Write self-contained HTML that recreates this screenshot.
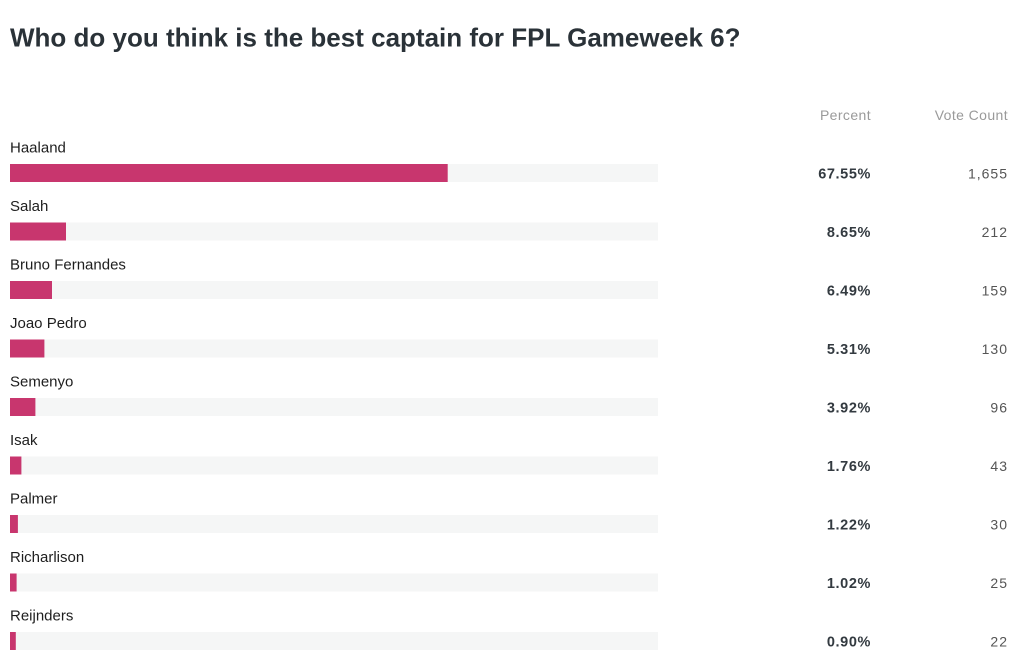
<!DOCTYPE html>
<html>
<head>
<meta charset="utf-8">
<style>
  html, body { margin: 0; padding: 0; background: #ffffff; }
  body { width: 1024px; height: 660px; overflow: hidden; }
  svg { display: block; }
  .title { font-family: "Liberation Sans", sans-serif; font-weight: bold; font-size: 26px; fill: #2a3238; }
  .lbl { font-family: "Liberation Sans", sans-serif; font-size: 15px; fill: #1e1e1e; }
  .hdr { font-family: "Liberation Sans", sans-serif; font-size: 14px; fill: #9a9a9a; letter-spacing: 0.4px; }
  .pct { font-family: "Liberation Sans", sans-serif; font-size: 14.5px; font-weight: bold; fill: #333a40; letter-spacing: 0.6px; }
  .cnt { font-family: "Liberation Sans", sans-serif; font-size: 14px; fill: #555555; letter-spacing: 1px; }
</style>
</head>
<body>
<svg width="1024" height="660" viewBox="0 0 1024 660" xmlns="http://www.w3.org/2000/svg">
  <text class="title" x="10" y="46.5">Who do you think is the best captain for FPL Gameweek 6?</text>

  <text class="hdr" x="871" y="120" text-anchor="end">Percent</text>
  <text class="hdr" x="1008" y="120" text-anchor="end">Vote Count</text>

  <!-- Row 0 -->
  <text class="lbl" x="10" y="152.7">Haaland</text>
  <rect x="10" y="164" width="648" height="18" fill="#f5f6f6"/>
  <rect x="10" y="164" width="437.7" height="18" fill="#c8366e"/>
  <text class="pct" x="871" y="178.5" text-anchor="end">67.55%</text>
  <text class="cnt" x="1008" y="178.5" text-anchor="end">1,655</text>

  <!-- Row 1 -->
  <text class="lbl" x="10" y="211.2">Salah</text>
  <rect x="10" y="222.5" width="648" height="18" fill="#f5f6f6"/>
  <rect x="10" y="222.5" width="56" height="18" fill="#c8366e"/>
  <text class="pct" x="871" y="237" text-anchor="end">8.65%</text>
  <text class="cnt" x="1008" y="237" text-anchor="end">212</text>

  <!-- Row 2 -->
  <text class="lbl" x="10" y="269.7">Bruno Fernandes</text>
  <rect x="10" y="281" width="648" height="18" fill="#f5f6f6"/>
  <rect x="10" y="281" width="42" height="18" fill="#c8366e"/>
  <text class="pct" x="871" y="295.5" text-anchor="end">6.49%</text>
  <text class="cnt" x="1008" y="295.5" text-anchor="end">159</text>

  <!-- Row 3 -->
  <text class="lbl" x="10" y="328.2">Joao Pedro</text>
  <rect x="10" y="339.5" width="648" height="18" fill="#f5f6f6"/>
  <rect x="10" y="339.5" width="34.4" height="18" fill="#c8366e"/>
  <text class="pct" x="871" y="354" text-anchor="end">5.31%</text>
  <text class="cnt" x="1008" y="354" text-anchor="end">130</text>

  <!-- Row 4 -->
  <text class="lbl" x="10" y="386.7">Semenyo</text>
  <rect x="10" y="398" width="648" height="18" fill="#f5f6f6"/>
  <rect x="10" y="398" width="25.4" height="18" fill="#c8366e"/>
  <text class="pct" x="871" y="412.5" text-anchor="end">3.92%</text>
  <text class="cnt" x="1008" y="412.5" text-anchor="end">96</text>

  <!-- Row 5 -->
  <text class="lbl" x="10" y="445.2">Isak</text>
  <rect x="10" y="456.5" width="648" height="18" fill="#f5f6f6"/>
  <rect x="10" y="456.5" width="11.4" height="18" fill="#c8366e"/>
  <text class="pct" x="871" y="471" text-anchor="end">1.76%</text>
  <text class="cnt" x="1008" y="471" text-anchor="end">43</text>

  <!-- Row 6 -->
  <text class="lbl" x="10" y="503.7">Palmer</text>
  <rect x="10" y="515" width="648" height="18" fill="#f5f6f6"/>
  <rect x="10" y="515" width="7.9" height="18" fill="#c8366e"/>
  <text class="pct" x="871" y="529.5" text-anchor="end">1.22%</text>
  <text class="cnt" x="1008" y="529.5" text-anchor="end">30</text>

  <!-- Row 7 -->
  <text class="lbl" x="10" y="562.2">Richarlison</text>
  <rect x="10" y="573.5" width="648" height="18" fill="#f5f6f6"/>
  <rect x="10" y="573.5" width="6.6" height="18" fill="#c8366e"/>
  <text class="pct" x="871" y="588" text-anchor="end">1.02%</text>
  <text class="cnt" x="1008" y="588" text-anchor="end">25</text>

  <!-- Row 8 -->
  <text class="lbl" x="10" y="620.7">Reijnders</text>
  <rect x="10" y="632" width="648" height="18" fill="#f5f6f6"/>
  <rect x="10" y="632" width="5.8" height="18" fill="#c8366e"/>
  <text class="pct" x="871" y="646.5" text-anchor="end">0.90%</text>
  <text class="cnt" x="1008" y="646.5" text-anchor="end">22</text>
</svg>
</body>
</html>
